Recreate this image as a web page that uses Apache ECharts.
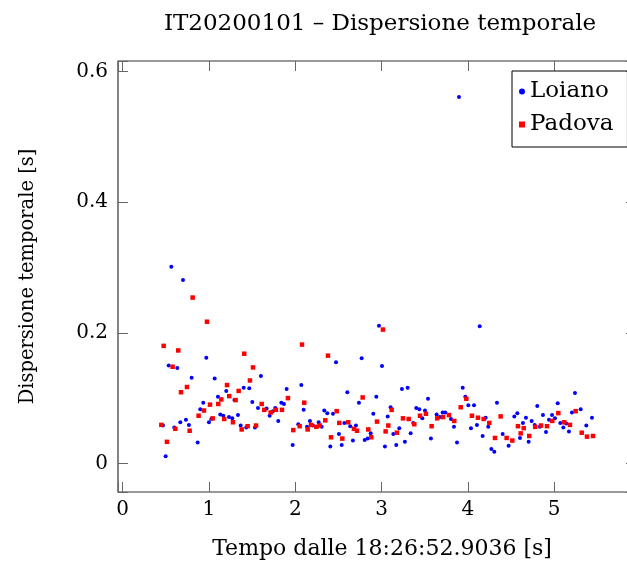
<!DOCTYPE html>
<html>
<head>
<meta charset="utf-8">
<script src="https://cdn.jsdelivr.net/npm/echarts@6/dist/echarts.min.js"></script>
<style>
  html, body { margin: 0; padding: 0; background: #fff; }
  #chart { width: 627px; height: 566px; }
</style>
</head>
<body>
<div id="chart"></div>
<script>
// values: [time (s), dispersion (s)]
const loiano = [
  [0.467, 0.058], [0.498, 0.011], [0.533, 0.150], [0.564, 0.301], [0.598, 0.055],
  [0.633, 0.146], [0.668, 0.063], [0.699, 0.281], [0.733, 0.067], [0.768, 0.059],
  [0.799, 0.131], [0.869, 0.032], [0.899, 0.083], [0.934, 0.093], [0.969, 0.162],
  [1.000, 0.063], [1.027, 0.068], [1.066, 0.130], [1.104, 0.102], [1.131, 0.075],
  [1.166, 0.073], [1.200, 0.111], [1.232, 0.071], [1.270, 0.069], [1.295, 0.097],
  [1.336, 0.074], [1.367, 0.058], [1.402, 0.116], [1.432, 0.055], [1.467, 0.115],
  [1.502, 0.094], [1.533, 0.055], [1.568, 0.085], [1.602, 0.134], [1.668, 0.084],
  [1.703, 0.073], [1.741, 0.080], [1.768, 0.085], [1.803, 0.065], [1.838, 0.093],
  [1.869, 0.091], [1.900, 0.114], [1.970, 0.028], [2.035, 0.060], [2.070, 0.120],
  [2.097, 0.082], [2.136, 0.056], [2.170, 0.065], [2.205, 0.058], [2.271, 0.063],
  [2.306, 0.056], [2.336, 0.081], [2.371, 0.077], [2.406, 0.026], [2.437, 0.076],
  [2.472, 0.155], [2.506, 0.045], [2.538, 0.028], [2.568, 0.062], [2.603, 0.109],
  [2.637, 0.057], [2.668, 0.035], [2.703, 0.058], [2.738, 0.093], [2.769, 0.161],
  [2.804, 0.036], [2.839, 0.038], [2.874, 0.046], [2.904, 0.076], [2.939, 0.102],
  [2.970, 0.211], [3.005, 0.149], [3.039, 0.026], [3.071, 0.072], [3.105, 0.086],
  [3.136, 0.045], [3.170, 0.028], [3.205, 0.054], [3.236, 0.114], [3.270, 0.033],
  [3.302, 0.116], [3.337, 0.046], [3.367, 0.062], [3.402, 0.085], [3.437, 0.083],
  [3.472, 0.069], [3.503, 0.081], [3.538, 0.099], [3.572, 0.038], [3.638, 0.075],
  [3.673, 0.071], [3.708, 0.078], [3.738, 0.078], [3.804, 0.068], [3.839, 0.056],
  [3.874, 0.032], [3.897, 0.561], [3.940, 0.116], [3.970, 0.102], [4.005, 0.089],
  [4.036, 0.054], [4.071, 0.089], [4.105, 0.059], [4.137, 0.210], [4.171, 0.042],
  [4.206, 0.070], [4.236, 0.056], [4.272, 0.022], [4.306, 0.018], [4.337, 0.093],
  [4.403, 0.045], [4.472, 0.027], [4.538, 0.072], [4.573, 0.077], [4.604, 0.039],
  [4.638, 0.062], [4.673, 0.070], [4.704, 0.033], [4.739, 0.065], [4.774, 0.059],
  [4.804, 0.088], [4.835, 0.056], [4.870, 0.074], [4.905, 0.048], [4.940, 0.067],
  [4.975, 0.074], [5.009, 0.069], [5.041, 0.092], [5.071, 0.062], [5.106, 0.055],
  [5.140, 0.061], [5.171, 0.049], [5.206, 0.078], [5.241, 0.108], [5.307, 0.083],
  [5.372, 0.058], [5.438, 0.070]
];

const padova = [
  [0.448, 0.059], [0.475, 0.180], [0.513, 0.033], [0.579, 0.148], [0.610, 0.053],
  [0.644, 0.173], [0.676, 0.109], [0.745, 0.117], [0.776, 0.050], [0.811, 0.254],
  [0.880, 0.073], [0.942, 0.081], [0.977, 0.217], [1.012, 0.090], [1.043, 0.069],
  [1.108, 0.091], [1.143, 0.098], [1.177, 0.068], [1.209, 0.120], [1.235, 0.103],
  [1.278, 0.063], [1.309, 0.097], [1.344, 0.111], [1.379, 0.052], [1.409, 0.168],
  [1.448, 0.057], [1.475, 0.127], [1.510, 0.147], [1.545, 0.058], [1.611, 0.091],
  [1.641, 0.082], [1.715, 0.078], [1.776, 0.082], [1.846, 0.082], [1.915, 0.100],
  [1.977, 0.051], [2.051, 0.057], [2.078, 0.182], [2.104, 0.093], [2.144, 0.052],
  [2.182, 0.059], [2.244, 0.056], [2.283, 0.058], [2.348, 0.066], [2.379, 0.165],
  [2.414, 0.040], [2.480, 0.080], [2.510, 0.062], [2.545, 0.038], [2.614, 0.063],
  [2.680, 0.053], [2.715, 0.050], [2.781, 0.101], [2.846, 0.052], [2.881, 0.040],
  [2.947, 0.064], [3.016, 0.205], [3.047, 0.049], [3.078, 0.058], [3.117, 0.082],
  [3.178, 0.047], [3.248, 0.069], [3.314, 0.068], [3.379, 0.060], [3.445, 0.073],
  [3.514, 0.076], [3.580, 0.057], [3.645, 0.069], [3.711, 0.071], [3.781, 0.074],
  [3.842, 0.065], [3.917, 0.086], [3.982, 0.099], [4.047, 0.073], [4.117, 0.070],
  [4.183, 0.068], [4.248, 0.062], [4.314, 0.039], [4.380, 0.072], [4.449, 0.039],
  [4.515, 0.035], [4.580, 0.057], [4.612, 0.046], [4.647, 0.054], [4.711, 0.042],
  [4.781, 0.056], [4.847, 0.058], [4.917, 0.057], [4.978, 0.065], [5.048, 0.077],
  [5.117, 0.063], [5.183, 0.059], [5.249, 0.080], [5.319, 0.047], [5.380, 0.041],
  [5.450, 0.042]
];

const xTicks = [0, 1, 2, 3, 4, 5];
const yTicks = [0, 0.2, 0.4, 0.6];

const FONT = "DejaVu Serif";
const COL_LOIANO = "#0000ff";
const COL_PADOVA = "#ff0000";

const chart = echarts.init(document.getElementById("chart"), null, { renderer: "canvas" });

// axis ranges as pgfplots drew them (data range enlarged by 10%)
const X_MIN = -0.054, X_MAX = 5.948;
const Y_MIN = -0.0438, Y_MAX = 0.6163;

const tickStyle = { show: true, inside: true, length: 10, lineStyle: { color: "#666", width: 1 } };
const noLine = { show: false, onZero: false };

const xBase = { type: "value", min: X_MIN, max: X_MAX, splitNumber: 6, splitLine: { show: false }, axisLine: noLine };
const yBase = { type: "value", min: Y_MIN, max: Y_MAX, splitNumber: 3, splitLine: { show: false }, axisLine: noLine };

chart.setOption({
  animation: false,
  backgroundColor: "#fff",
  title: {
    text: "IT20200101 – Dispersione temporale",
    left: 375,
    top: 8,
    textAlign: "center",
    textStyle: { fontFamily: FONT, fontWeight: "normal", fontSize: 23, color: "#000" }
  },
  legend: {
    orient: "vertical",
    left: 512,
    top: 71,
    data: ["Loiano", "Padova"],
    borderColor: "#000",
    borderWidth: 1,
    padding: [9, 14, 11, 7],
    itemGap: 10,
    itemWidth: 6,
    itemHeight: 6,
    textStyle: { fontFamily: FONT, fontSize: 23, color: "#000" }
  },
  // the right side of the frame runs past the picture, as in the original
  grid: {
    left: 118, top: 61, right: -9, bottom: 74,
    outerBoundsMode: "none",
    show: true, borderColor: "#333", borderWidth: 1.2,
    containLabel: false
  },
  xAxis: [
    Object.assign({}, xBase, {
      name: "Tempo dalle 18:26:52.9036 [s]",
      nameLocation: "middle", nameGap: 46,
      nameTextStyle: { fontFamily: FONT, fontSize: 22, color: "#000", padding: [0, 0, 0, 10] },
      axisTick: tickStyle,
      axisLabel: { customValues: xTicks, fontFamily: FONT, fontSize: 20, color: "#000", margin: 8 }
    }),
    Object.assign({}, xBase, {
      position: "top",
      axisTick: tickStyle,
      axisLabel: { show: false }
    })
  ],
  yAxis: [
    Object.assign({}, yBase, {
      name: "Dispersione temporale [s]",
      nameLocation: "middle", nameGap: 80,
      nameTextStyle: { fontFamily: FONT, fontSize: 19.5, color: "#000" },
      axisTick: tickStyle,
      axisLabel: { customValues: yTicks, fontFamily: FONT, fontSize: 20, color: "#000", margin: 10 }
    }),
    Object.assign({}, yBase, {
      position: "right",
      axisTick: tickStyle,
      axisLabel: { show: false }
    })
  ],
  series: [
    {
      name: "Loiano",
      type: "scatter",
      data: loiano,
      symbol: "circle",
      symbolSize: 4,
      itemStyle: { color: COL_LOIANO, opacity: 1 },
      emphasis: { disabled: true }
    },
    {
      name: "Padova",
      type: "scatter",
      data: padova,
      symbol: "rect",
      symbolSize: 4.5,
      itemStyle: { color: COL_PADOVA, opacity: 1 },
      emphasis: { disabled: true }
    }
  ]
});
</script>
</body>
</html>
